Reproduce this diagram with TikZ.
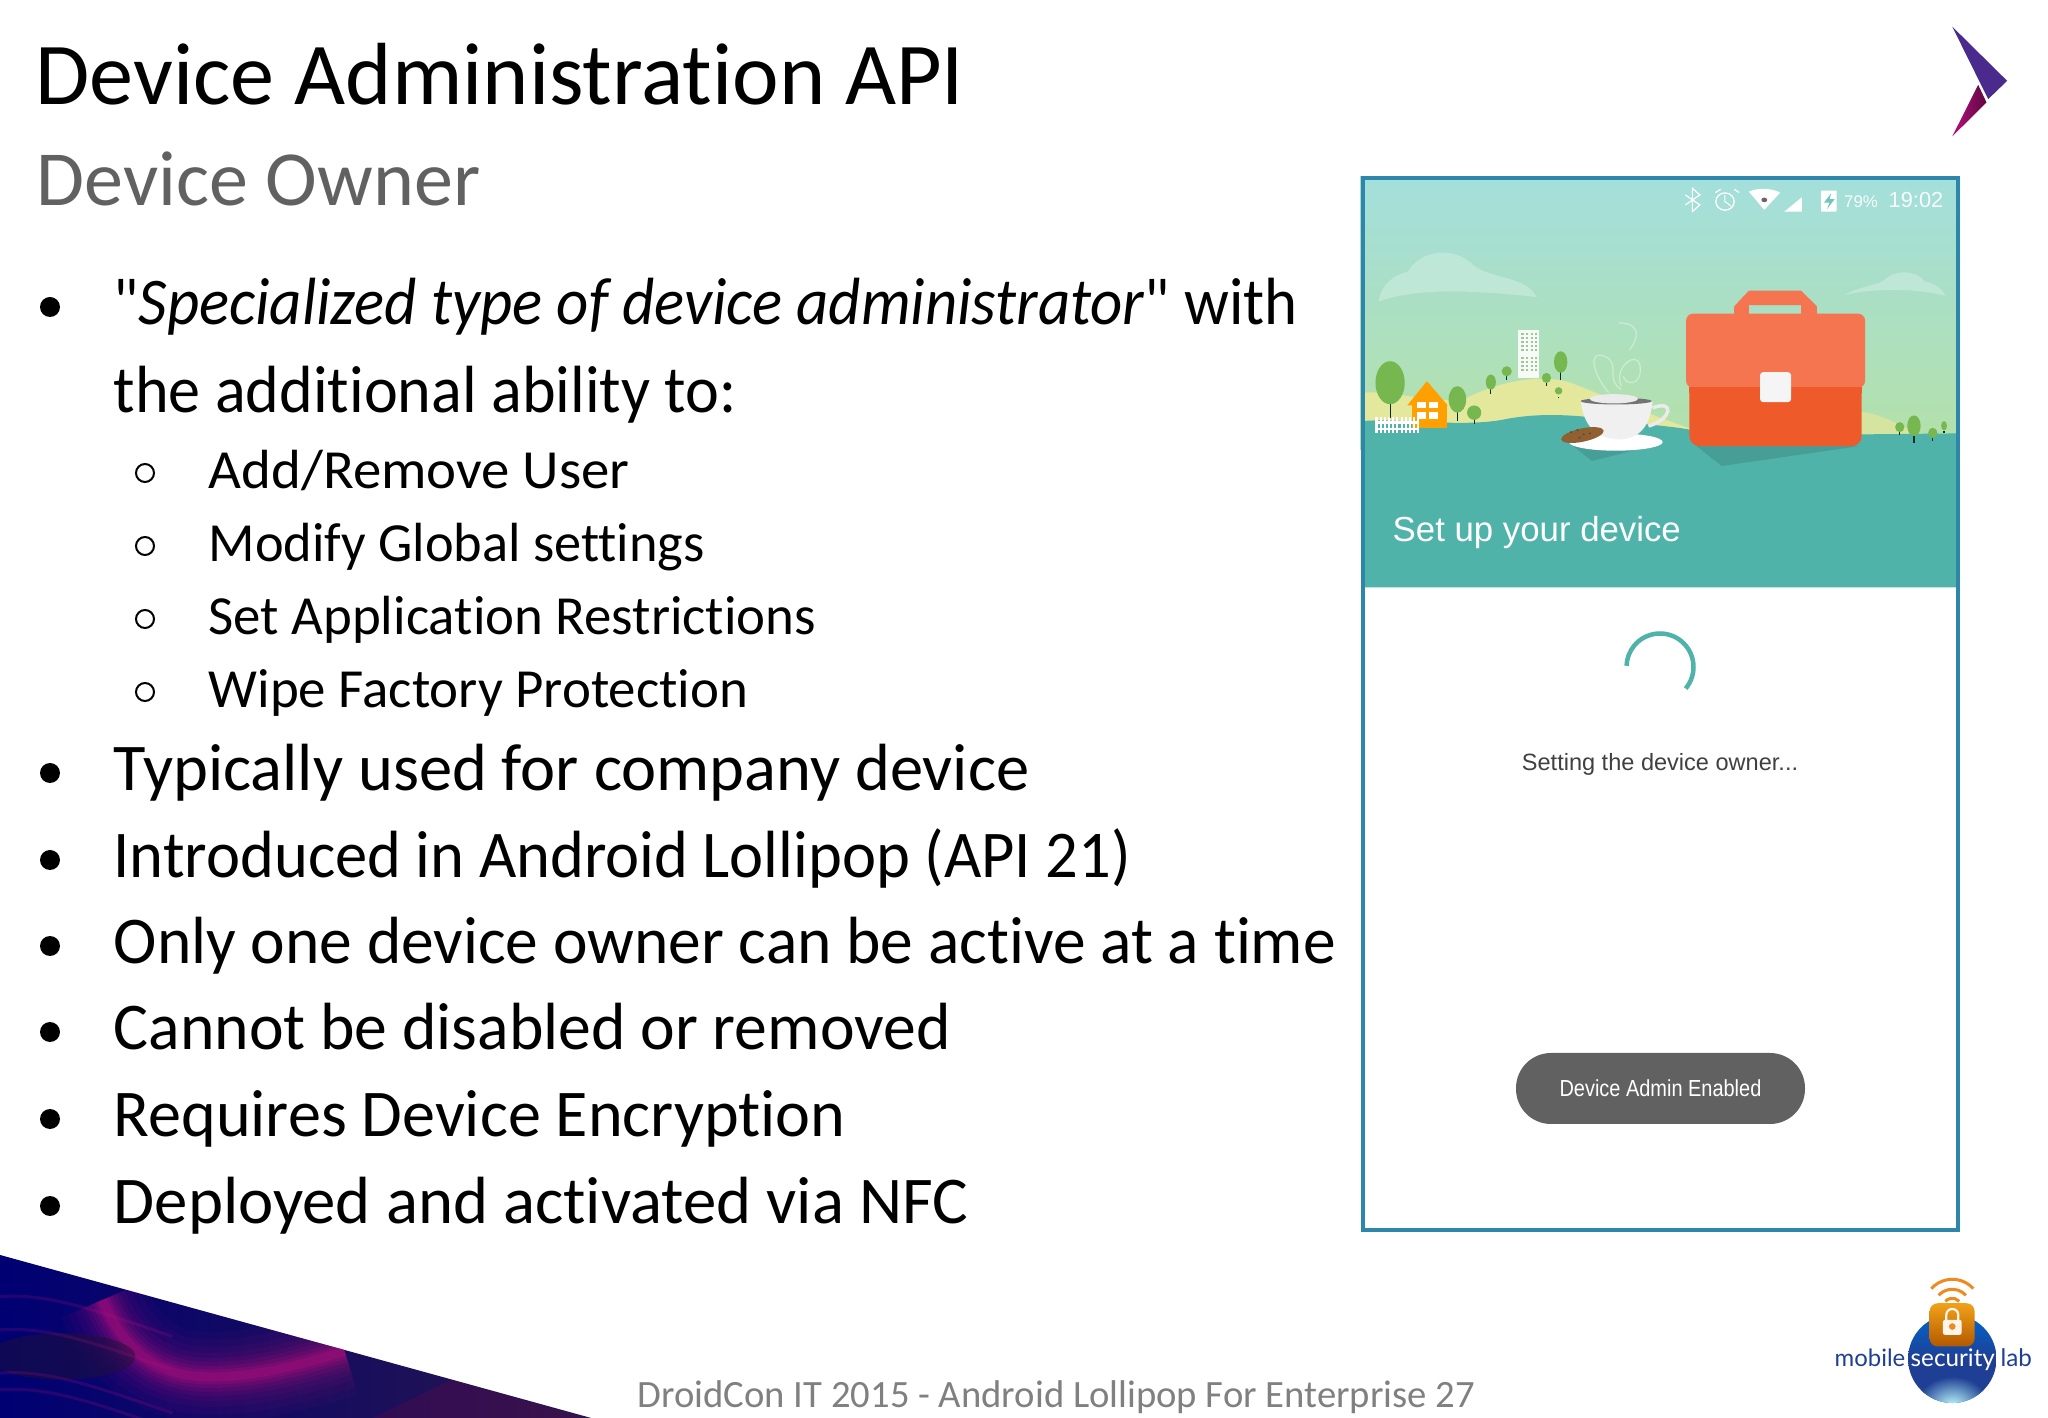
\documentclass[tikz,border=0pt]{standalone}
\usepackage{fontspec}
\setmainfont[Ligatures=NoCommon]{Carlito}
\newfontfamily\quotefont{Carlito}
\newfontfamily\phonefont{Liberation Sans}
\newfontfamily\logofont{Lato}
\usetikzlibrary{shapes.geometric}
\definecolor{frameblue}{HTML}{2E86AB}
\definecolor{skytop}{HTML}{A3DFDC}
\definecolor{skylow}{HTML}{B4E0A8}
\definecolor{seateal}{HTML}{4FB3AA}
\definecolor{hillyellow}{HTML}{E3E89C}
\definecolor{treegreen}{HTML}{76B84F}
\definecolor{bagtop}{HTML}{F4754F}
\definecolor{baglow}{HTML}{EE5A2A}
\definecolor{deckpurple}{HTML}{4A2A8C}
\definecolor{deckmagenta}{HTML}{B80F7E}
\definecolor{logoblue}{HTML}{1F3F94}
\definecolor{logoorange}{HTML}{EE8A1E}
\tikzset{
  titletext/.style={anchor=base west,inner sep=0pt,font=\fontsize{25.1}{30}\selectfont},
  subtitletext/.style={anchor=base west,inner sep=0pt,text=black!62,font=\fontsize{22.2}{26}\selectfont},
  itemtext/.style={anchor=base west,inner sep=0pt,font=\fontsize{19}{23}\selectfont},
  subitemtext/.style={anchor=base west,inner sep=0pt,font=\fontsize{15.7}{20}\selectfont},
  itemdot/.style={circle,fill=black,inner sep=0pt,minimum size=0.2cm},
  subitemdot/.style={circle,draw=black,line width=0.02cm,inner sep=0pt,minimum size=0.18cm},
  phonetext/.style={anchor=base west,inner sep=0pt,font=\phonefont\fontsize{9.9}{12}\selectfont,text=white},
  zoomed/.style={x=0.003333cm,y=-0.003333cm},
}
\begin{document}
\begin{tikzpicture}
\useasboundingbox (0,0) rectangle (20.48,-14.18);
\fill[white] (0,0) rectangle (20.48,-14.18);

% headings
\draw (0.35,-1.045) node[titletext] (title) {Device Administration API};
\draw (0.36,-2.06) node[subtitletext] (subtitle) {Device Owner};

% bullet list
\foreach \yy/\id/\sx/\mytext in {
  -3.25/a/0.94/{{\quotefont"}\emph{Specialized type of device administrator}{\quotefont"} with},
  -7.91/b/0.995/{Typically used for company device},
  -8.78/c/0.966/{Introduced in Android Lollipop (API 21)},
  -9.64/d/0.98/{Only one device owner can be active at a time},
  -10.50/e/0.983/{Cannot be disabled or removed},
  -11.37/f/0.99/{Requires Device Encryption},
  -12.24/g/1/{Deployed and activated via NFC}}
{
  \draw (1.13,\yy) node[itemtext,xscale=\sx] (item\id) {\mytext};
  \draw (0.5,\yy+0.18) node[itemdot] (dot\id) {};
}
\draw (1.13,-4.13) node[itemtext,xscale=0.96] (itema2) {the additional ability to:};
\foreach \yy/\id/\sx/\mytext in {
  -4.89/a/1.03/{Add/Remove User},
  -5.62/b/0.985/{Modify Global settings},
  -6.35/c/0.994/{Set Application Restrictions},
  -7.08/d/0.995/{Wipe Factory Protection}}
{
  \draw (2.08,\yy) node[subitemtext,xscale=\sx] (subitem\id) {\mytext};
  \draw (1.45,\yy+0.16) node[subitemdot] (subdot\id) {};
}

% phone screen
\fill[white] (13.6,-1.77) rectangle (19.6,-12.31);
\shade[top color=skytop,bottom color=skylow] (13.6,-1.77) rectangle (19.6,-4.5);
\begin{scope}[shift={(13.37,-1.60)},x=0.004174cm,y=-0.003333cm]
  \begin{scope}
    \clip (60,55) rectangle (1486,1285);
    % clouds
    \fill[white,opacity=0.25] (100,425) .. controls (105,370) and (140,345) .. (170,335) .. controls (200,270) and (280,255) .. (330,320) .. controls (380,360) and (450,350) .. (478,412) .. controls (350,395) and (200,380) .. (100,425) -- cycle;
    \fill[white,opacity=0.25] (1215,405) .. controls (1260,375) and (1290,380) .. (1310,360) .. controls (1340,325) and (1390,335) .. (1405,365) .. controls (1430,370) and (1445,385) .. (1455,408) .. controls (1380,385) and (1290,385) .. (1215,405) -- cycle;
    % hills
    \fill[hillyellow] (60,700) .. controls (130,690) and (250,740) .. (310,715) .. controls (400,660) and (500,640) .. (570,675) .. controls (650,715) and (760,770) .. (850,810) -- (850,840) -- (60,840) -- cycle;
    \fill[hillyellow!70!skylow] (1250,755) .. controls (1300,765) and (1340,790) .. (1390,825) -- (1250,825) -- cycle;
    % building
    \fill[white!88!skylow] (432,510) rectangle (482,655);
    \foreach \xx in {441,452,463,473}
      \foreach \yy in {520,532,544,556,568,592,604,616,628}
        \fill[skylow!70!gray] (\xx,\yy) rectangle ++(6,7);
    % ground
    \fill[seateal] (60,785) .. controls (150,775) and (300,805) .. (400,780) .. controls (480,760) and (560,765) .. (650,780) .. controls (730,795) and (800,800) .. (850,812) -- (1250,825) -- (1486,822) -- (1486,1285) -- (60,1285) -- cycle;
    % trees
    \foreach \xx/\treetop/\treebot/\treew in {127/605/775/35,288/680/785/21,328/738/795/17,368/645/705/12,406/620/660/12,535/575/660/16,501/640/680/11,530/683/712/9,1346/788/828/11,1380/768/850/16,1425/805/845/11,1452/785/822/7}
    {
      \draw[black!65!teal,line width=0.012cm] (\xx,\treetop+30) -- (\xx,\treebot);
      \fill[treegreen] (\xx,{(\treetop+\treebot)/2-(\treebot-\treetop)*0.12}) ellipse ({\treew} and {(\treebot-\treetop)*0.38});
    }
    % house
    \fill[orange!75!yellow] (180,735) rectangle (262,806);
    \fill[orange!75!yellow] (168,738) -- (215,665) -- (265,738) -- cycle;
    \fill[white] (191,728) rectangle (212,747);
    \fill[white] (220,728) rectangle (242,747);
    \fill[white] (191,757) rectangle (212,778);
    \fill[white] (220,757) rectangle (242,778);
    % fence
    \fill[white] (90,785) rectangle (195,793);
    \fill[white] (90,805) rectangle (195,812);
    \foreach \xx in {92,102,...,192}
      \fill[white] (\xx,772) rectangle ++(5,48);
    % coffee
    \fill[black!12!seateal] (560,855) -- (610,905) -- (720,870) -- cycle;
    \fill[white] (667,848) ellipse (112 and 26);
    \draw[black!8,line width=0.035cm] (755,745) .. controls (810,720) and (800,780) .. (745,800);
    \fill[black!6] (583,725) .. controls (590,800) and (620,840) .. (680,840) .. controls (730,835) and (750,790) .. (755,725) -- cycle;
    \fill[black!55] (668,725) ellipse (85 and 10);
    \fill[black!8] (662,718) ellipse (58 and 14);
    \fill[brown!75!black] (587,827) ellipse [x radius=52,y radius=20,rotate=12];
    \foreach \xx/\yy in {560/818,575/812,590/825,605/822,580/835}
      \fill[black!70] (\xx,\yy) circle (3);
    \draw[white,opacity=0.4,line width=0.012cm] (650,700) .. controls (610,640) and (600,570) .. (640,590) .. controls (680,610) and (640,660) .. (680,690);
    \draw[white,opacity=0.4,line width=0.012cm] (680,680) .. controls (660,620) and (720,570) .. (725,620) .. controls (730,680) and (690,680) .. (685,650);
    \draw[white,opacity=0.4,line width=0.012cm] (675,490) .. controls (730,490) and (720,540) .. (700,570);
    % briefcase
    \fill[black!12!seateal] (850,850) -- (920,920) -- (1250,860) -- cycle;
    \fill[bagtop] (950,470) -- (950,440) -- (985,393) -- (1110,393) -- (1148,440) -- (1148,470) -- (1110,470) -- (1110,436) -- (985,436) -- (985,470) -- cycle;
    \fill[baglow,rounded corners=0.1cm] (843,660) rectangle (1255,860);
    \fill[bagtop,rounded corners=0.07cm] (835,462) rectangle (1263,685);
    \fill[baglow] (843,682) rectangle (1255,700);
    \fill[white!92!gray,rounded corners=0.03cm] (1012,638) rectangle (1086,728);
    % status bar
    \draw[white,line width=0.012cm] (833,105) -- (868,135) -- (850,155) -- (850,85) -- (868,105) -- (833,135);
    \draw[white,line width=0.013cm] (928,125) ellipse (22 and 26);
    \draw[white,line width=0.01cm] (928,105) -- (928,125) -- (942,138);
    \draw[white,line width=0.012cm] (905,98) -- (918,88) (950,88) -- (962,98);
    \fill[white] (985,95) .. controls (1010,82) and (1040,85) .. (1060,98) -- (1022,150) -- cycle;
    \fill[black!60] (1022,120) circle (7);
    \fill[white] (1070,155) -- (1112,112) -- (1112,155) -- cycle;
    \fill[white,rounded corners=0.005cm] (1158,92) rectangle (1195,155);
    \fill[seateal!60!skytop] (1182,100) -- (1165,128) -- (1178,128) -- (1172,148) -- (1190,118) -- (1178,118) -- cycle;
  \end{scope}
\end{scope}
\draw (18.61,-2.08) node[anchor=base,inner sep=0pt,font=\phonefont\fontsize{4.8}{6}\selectfont,text=white!92!skytop] (batterylevel) {79\%};
\draw (19.16,-2.08) node[anchor=base,inner sep=0pt,font=\phonefont\fontsize{6.2}{8}\selectfont,text=white!92!skytop] (clock) {19:02};
\draw (13.92,-5.42) node[phonetext] (setup) {Set up your device};
\draw[seateal,line width=0.045cm] (16.6,-6.67) ++(-40:0.335) arc (-40:178:0.335);
\draw (16.6,-7.71) node[anchor=base,inner sep=0pt,text=black!75,font=\phonefont\fontsize{6.7}{8}\selectfont] (settingowner) {Setting the device owner...};
\draw (16.605,-10.885) node[rounded corners=0.35cm,fill=black!62,minimum width=2.89cm,minimum height=0.71cm] (adminbutton) {};
\draw (adminbutton.center) node[text=white,xscale=0.86,font=\phonefont\fontsize{6.6}{8}\selectfont] (adminlabel) {Device Admin Enabled};
\draw[frameblue,line width=0.04cm] (13.63,-1.78) rectangle (19.58,-12.3);

% corner arrow
\begin{scope}[shift={(19.20,-0.10)},zoomed]
  \fill[deckpurple] (97,50) -- (262,213) -- (205,268) -- cycle;
  \shade[left color=deckmagenta,right color=deckmagenta!50!black] (175,225) -- (200,278) -- (97,380) -- cycle;
\end{scope}

% corner swoosh
\begin{scope}[shift={(0,-12.40)},x=0.00411cm,y=-0.003333cm]
  \begin{scope}
    \clip (0,45) -- (1440,535) -- (0,535) -- cycle;
    \shade[left color=blue!45!black,right color=deckpurple!55!black] (0,0) rectangle (1440,540);
    \fill[black!45!deckmagenta,opacity=0.3] (900,540) -- (1100,420) -- (1440,540) -- cycle;
    \foreach \lw/\lop in {0.9/0.05,0.75/0.06,0.6/0.07,0.48/0.08,0.38/0.1,0.3/0.13,0.22/0.17,0.15/0.22,0.09/0.28}
      \draw[deckmagenta,opacity=\lop,line width=\lw cm] (250,180) .. controls (300,330) and (380,400) .. (480,410) .. controls (600,420) and (720,380) .. (840,335);
    \fill[black!60!deckpurple,opacity=0.5] (150,350) ellipse (180 and 70);
    \foreach \yy in {170,270,400,450}
      \draw[deckmagenta,opacity=0.2,line width=0.03cm] (0,\yy) .. controls (120,\yy-10) and (230,\yy+40) .. (420,\yy+120);
  \end{scope}
\end{scope}

% logo
\begin{scope}[shift={(17.80,-12.60)},zoomed]
  \begin{scope}
    \clip (518,297) circle (133);
    \shade[top color=blue!50!cyan!80!black,bottom color=logoblue,middle color=logoblue] (385,164) rectangle (651,430);
    \shade[inner color=cyan!25,outer color=logoblue] (518,440) ellipse (110 and 90);
  \end{scope}
  \shade[top color=logoorange!80!yellow,bottom color=orange!70!black,rounded corners=0.08cm] (450,130) rectangle (585,260);
  \fill[white!92!orange,rounded corners=0.02cm] (490,180) rectangle (546,225);
  \draw[white!92!orange,line width=0.022cm] (500,180) -- (500,165) arc (-180:0:18) -- (536,180);
  \fill[logoorange] (518,200) circle (10);
  \foreach \rr in {28,55,85}
    \draw[logoorange,line width=0.03cm] (518,143) ++(-42:\rr) arc (-42:-138:\rr);
\end{scope}
\draw (18.34,-13.67) node[anchor=base west,inner sep=0pt,text=logoblue,font=\logofont\fontsize{6.8}{8}\selectfont] (logomobile) {mobile};
\draw (19.10,-13.67) node[anchor=base west,inner sep=0pt,text=white,font=\logofont\fontsize{6.9}{8}\selectfont] (logosecurity) {security};
\draw (20.00,-13.67) node[anchor=base west,inner sep=0pt,text=logoblue,font=\logofont\fontsize{6.9}{8}\selectfont] (logolab) {lab};

% footer
\draw (6.37,-14.08) node[anchor=base west,inner sep=0pt,text=black!50,font=\fontsize{11}{13}\selectfont] (footer) {DroidCon IT 2015 - Android Lollipop For Enterprise 27};
\end{tikzpicture}
\end{document}
